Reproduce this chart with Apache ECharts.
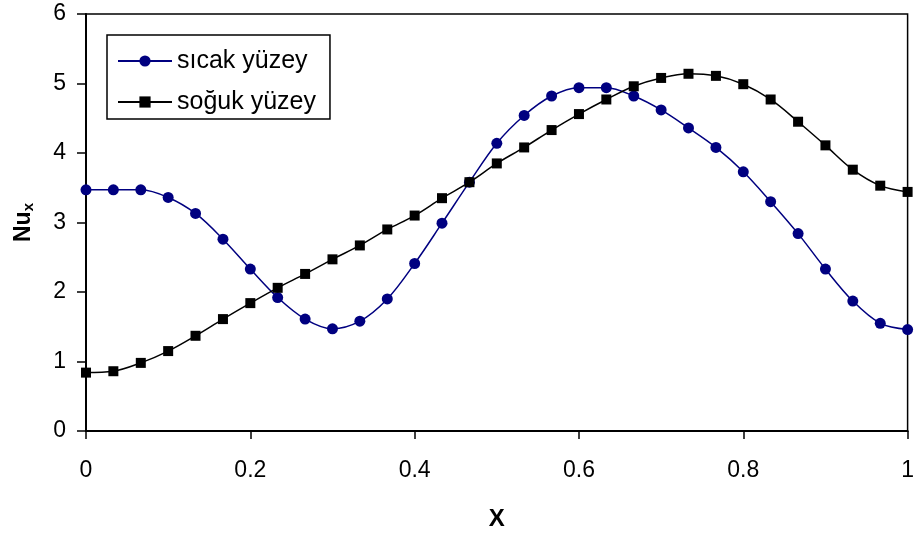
<!DOCTYPE html>
<html>
<head>
<meta charset="utf-8">
<script src="https://cdn.jsdelivr.net/npm/echarts@6/dist/echarts.min.js"></script>
<style>html,body{margin:0;padding:0;background:#fff}#c{width:917px;height:536px}</style>
</head>
<body>
<div id="c"></div>
<script>
const xValues = [0, 0.0333, 0.0667, 0.1, 0.1333, 0.1667, 0.2, 0.2333, 0.2667, 0.3, 0.3333, 0.3667, 0.4, 0.4333, 0.4667, 0.5, 0.5333, 0.5667, 0.6, 0.6333, 0.6667, 0.7, 0.7333, 0.7667, 0.8, 0.8333, 0.8667, 0.9, 0.9333, 0.9667, 1];
const sicakYuzey = [3.47, 3.47, 3.47, 3.36, 3.13, 2.76, 2.33, 1.92, 1.61, 1.47, 1.58, 1.90, 2.41, 2.99, 3.58, 4.14, 4.54, 4.82, 4.94, 4.94, 4.82, 4.62, 4.36, 4.08, 3.73, 3.30, 2.84, 2.33, 1.87, 1.55, 1.46];
const sogukYuzey = [0.84, 0.86, 0.98, 1.15, 1.37, 1.61, 1.84, 2.06, 2.26, 2.47, 2.67, 2.90, 3.10, 3.35, 3.58, 3.85, 4.08, 4.33, 4.56, 4.77, 4.96, 5.08, 5.14, 5.11, 4.99, 4.77, 4.45, 4.11, 3.76, 3.53, 3.44];
const seriesNames = ['sıcak yüzey', 'soğuk yüzey'];
const xAxisName = 'X';

const pairs = ys => xValues.map((x, i) => [x, ys[i]]);
const font = '"Liberation Sans", Arial, sans-serif';

const chart = echarts.init(document.getElementById('c'), null, {renderer: 'canvas'});
chart.setOption({
  animation: false,
  backgroundColor: '#fff',
  grid: {left: 86, right: 8, top: 14, bottom: 104, show: true, borderColor: '#000', borderWidth: 1.5, backgroundColor: 'transparent'},
  legend: {
    left: 107, top: 35, orient: 'vertical',
    borderColor: '#000', borderWidth: 1.5, padding: [13, 14, 4, 10],
    itemWidth: 54, itemHeight: 14, itemGap: 15,
    textStyle: {fontFamily: font, fontSize: 25, color: '#000', lineHeight: 26},
    data: seriesNames
  },
  xAxis: {
    type: 'value', min: 0, max: 1, interval: 0.2,
    name: xAxisName, nameLocation: 'middle', nameGap: 76,
    nameTextStyle: {fontFamily: font, fontSize: 24, fontWeight: 'bold', color: '#000'},
    axisLine: {show: true, onZero: false, lineStyle: {color: '#000', width: 2}},
    axisTick: {show: true, inside: false, length: 8, lineStyle: {color: '#000', width: 1.5}},
    axisLabel: {fontFamily: font, fontSize: 23, color: '#000', margin: 28},
    splitLine: {show: false}
  },
  yAxis: {
    type: 'value', min: 0, max: 6, interval: 1,
    name: 'Nu{s|x}', nameLocation: 'middle', nameGap: 50, nameRotate: 90,
    nameTextStyle: {fontFamily: font, fontSize: 23, fontWeight: 'bold', color: '#000',
      rich: {s: {fontFamily: font, fontSize: 15, fontWeight: 'bold', color: '#000', verticalAlign: 'bottom', padding: [9, 0, 0, 0]}}},
    axisLine: {show: true, onZero: false, lineStyle: {color: '#000', width: 2}},
    axisTick: {show: true, inside: false, length: 9, lineStyle: {color: '#000', width: 1.5}},
    axisLabel: {fontFamily: font, fontSize: 23, color: '#000', margin: 20},
    splitLine: {show: false}
  },
  series: [
    {
      name: seriesNames[0], type: 'line', data: pairs(sicakYuzey), smooth: 0.35,
      symbol: 'circle', symbolSize: 11, clip: false,
      lineStyle: {color: '#000080', width: 1.5},
      itemStyle: {color: '#000080', borderWidth: 0}
    },
    {
      name: seriesNames[1], type: 'line', data: pairs(sogukYuzey), smooth: 0.35,
      symbol: 'rect', symbolSize: 10, clip: false,
      lineStyle: {color: '#000000', width: 1.5},
      itemStyle: {color: '#000000', borderWidth: 0}
    }
  ]
});
</script>
</body>
</html>
